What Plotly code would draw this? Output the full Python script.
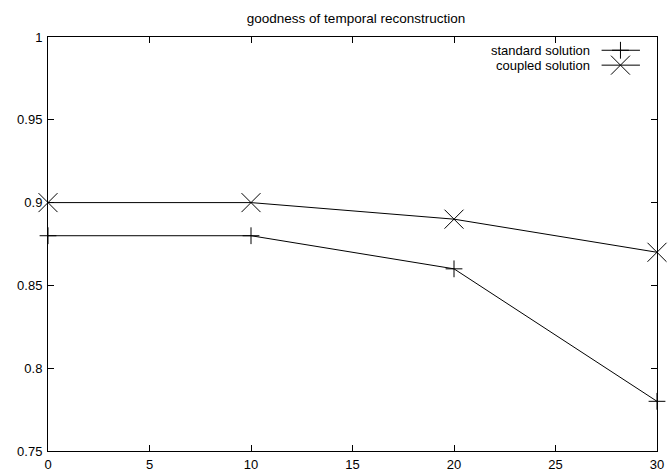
import plotly.graph_objects as go

x_vals = [0, 10, 20, 30]
standard = [0.88, 0.88, 0.86, 0.78]
coupled = [0.90, 0.90, 0.89, 0.87]
series_names = ["standard solution", "coupled solution"]
x_ticks = [0, 5, 10, 15, 20, 25, 30]
y_ticks = [0.75, 0.8, 0.85, 0.9, 0.95, 1]
y_tick_text = ["0.75", "0.8", "0.85", "0.9", "0.95", "1"]

FONT = "Liberation Sans, Arial, Helvetica, sans-serif"
line_style = dict(color="black", width=1)
plus_marker = dict(symbol="cross-thin-open", size=12, line=dict(color="black", width=1), color="black")
x_marker = dict(symbol="x-thin-open", size=19, line=dict(color="black", width=1), color="black")

fig = go.Figure()
fig.add_trace(go.Scatter(
    x=x_vals, y=standard, mode="lines+markers", name=series_names[0],
    line=line_style, marker=plus_marker, cliponaxis=False, showlegend=False))
fig.add_trace(go.Scatter(
    x=x_vals, y=coupled, mode="lines+markers", name=series_names[1],
    line=line_style, marker=x_marker, cliponaxis=False, showlegend=False))

# gnuplot-style legend (text left of sample) on an overlay axis in plot-fraction units
leg_y = [0.968, 0.932]
leg_markers = [plus_marker, x_marker]
for i, nm in enumerate(series_names):
    fig.add_trace(go.Scatter(
        x=[0.909, 0.972], y=[leg_y[i], leg_y[i]], xaxis="x2", yaxis="y2",
        mode="lines", line=line_style, showlegend=False, hoverinfo="skip"))
    fig.add_trace(go.Scatter(
        x=[0.940], y=[leg_y[i]], xaxis="x2", yaxis="y2",
        mode="markers", marker=leg_markers[i],
        showlegend=False, hoverinfo="skip"))
    fig.add_annotation(
        x=0.893, y=leg_y[i], xref="x2", yref="y2", text=nm, showarrow=False,
        xanchor="right", yanchor="middle", font=dict(family=FONT, size=13, color="black"))

axis_common = dict(
    showline=True, linecolor="black", linewidth=1, mirror="allticks",
    ticks="inside", ticklen=6, tickcolor="black", tickwidth=1,
    showgrid=False, zeroline=False,
    tickfont=dict(family=FONT, size=13, color="black"),
)

fig.update_layout(
    width=668, height=476,
    margin=dict(l=48, r=4, t=37, b=22),
    paper_bgcolor="white", plot_bgcolor="white",
    title=dict(text="goodness of temporal reconstruction", x=356 / 668, xanchor="center",
               y=1 - 18 / 476, yanchor="middle",
               font=dict(family=FONT, size=13.5, color="black")),
    xaxis=dict(range=[0, 30], tickvals=x_ticks, ticklabelstandoff=1,
               ticklabeloverflow="allow", **axis_common),
    yaxis=dict(range=[0.75, 1], tickvals=y_ticks, ticktext=y_tick_text,
               ticklabelstandoff=2, **axis_common),
    xaxis2=dict(range=[0, 1], overlaying="x", visible=False, fixedrange=True),
    yaxis2=dict(range=[0, 1], overlaying="y", visible=False, fixedrange=True),
    showlegend=False,
)

fig.write_html("out.html")
